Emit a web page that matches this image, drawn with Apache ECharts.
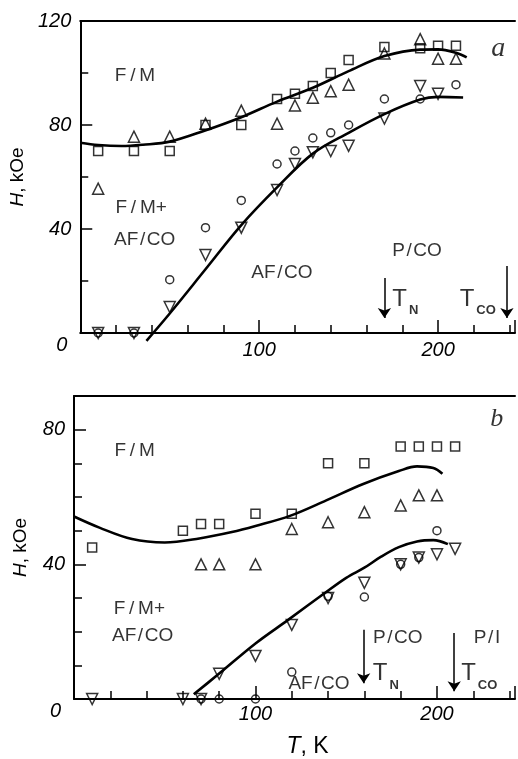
<!DOCTYPE html>
<html><head><meta charset="utf-8">
<script src="https://cdn.jsdelivr.net/npm/echarts@6.0.0/dist/echarts.min.js"></script>
<style>html,body{margin:0;padding:0;background:#fff}#c{width:518px;height:759px}</style>
</head><body><div id="c"></div>
<script>
// ---------- Panel a (top) ----------
const aSquares = [[10,70],[30,70],[50,70],[70,80],[90,80],[110,90],[120,92],[130,95],[140,100],[150,105],[170,110],[190,109.5],[200,110.5],[210,110.5]];
const aTriUp = [[10,55.5],[30,75.5],[50,75.5],[70,80.5],[90,85.5],[110,80.5],[120,87.5],[130,90.5],[140,93],[150,95.5],[170,107.5],[190,113],[200,105.5],[210,105.5]];
const aCircles = [[10,0],[30,0],[50,20.5],[70,40.5],[90,51],[110,65],[120,70],[130,75],[140,77],[150,80],[170,90],[190,90],[210,95.5]];
const aTriDown = [[10,0],[30,0],[50,10],[70,30],[90,40.5],[110,55],[120,65],[130,69.5],[140,70],[150,72],[170,82.5],[190,95],[200,92]];
const aUpperCurve = [[0,73.2],[10,72.3],[23,71.9],[35,72.4],[50,73.6],[69,77.7],[90,83],[110,89],[130,94.3],[150,100.7],[170,106.5],[190,109],[200,109.1],[210,107.8],[216,106]];
const aLowerCurve = [[37,-3],[50,7.5],[70,24.5],[90,41.5],[110,56],[130,69],[150,77],[170,84.2],[190,89.8],[200,90.8],[214,90.6]];
const aArrows = [[170,21.2,5.8],[238.5,25.8,5.8]];
const aLabels = [[30.6,98.8,'F\u2009/\u2009M'],[34,48,'F\u2009/\u2009M+'],[36,35.8,'AF\u200A/\u200ACO'],[112.7,23.1,'AF\u200A/\u200ACO'],[188.2,31.7,'P\u200A/\u200ACO'],[181.7,13,'{t|T}{s|N}'],[222.2,13,'{t|T}{s|CO}']];
const aLetter = [[233.7,109.2,'a']];

// ---------- Panel b (bottom) ----------
const bSquares = [[10,45],[60,50],[70,52],[80,52],[100,55],[120,55],[140,70],[160,70],[180,75],[190,75],[200,75],[210,75]];
const bTriUp = [[70,40],[80,40],[100,40],[120,50.5],[140,52.5],[160,55.5],[180,57.5],[190,60.5],[200,60.5]];
const bCircles = [[70,0],[80,0],[100,0],[120,8],[140,30.5],[160,30.3],[180,40],[190,42],[200,50]];
const bTriDown = [[10,0],[60,0],[70,0],[80,7.5],[100,12.8],[120,22],[140,30],[160,34.5],[180,40],[190,42],[200,43],[210,44.6]];
const bUpperCurve = [[0,54.2],[14,50.9],[32,47.5],[50,46.5],[69,47.7],[87,49.6],[100,51.4],[119,54.4],[139,59],[159,63.8],[179,67.7],[189,69.1],[198,68.6],[203,66.9]];
const bLowerCurve = [[66,1.4],[79,7.1],[100,16.5],[118,23.5],[138,31.4],[150,36],[160,39],[169,42.2],[179,45.1],[189,46.8],[198,47.2],[206,46]];
const bArrows = [[159.6,20.6,4.7],[209.5,19.6,2.3]];
const bLabels = [[33.4,73.8,'F\u2009/\u2009M'],[36,26.8,'F\u2009/\u2009M+'],[37.8,18.7,'AF\u200A/\u200ACO'],[135,4.6,'AF\u200A/\u200ACO'],[178.4,18.2,'P\u200A/\u200ACO'],[227.6,18.2,'P\u200A/\u200AI'],[171.8,7.5,'{t|T}{s|N}'],[223.3,7.5,'{t|T}{s|CO}']];
const bLetter = [[233,83,'b']];

const FONT = "'Liberation Sans', Arial, sans-serif";
const SERIF = "'Liberation Serif', 'DejaVu Serif', serif";
const XMAX = 243;

function xAxesFor(grid, withName) {
  return [
    { gridIndex: grid, type: 'value', min: 0, max: XMAX, interval: 20, position: 'bottom',
      axisLine: { show: true, lineStyle: { color: '#000', width: 2 } },
      axisTick: { show: true, inside: true, length: 8, lineStyle: { color: '#000', width: 1.5 } },
      axisLabel: { show: false }, splitLine: { show: false } },
    { gridIndex: grid, type: 'value', min: 0, max: XMAX, interval: 100, position: 'bottom',
      axisLine: { show: false },
      axisTick: { show: true, inside: true, length: 13, lineStyle: { color: '#000', width: 1.5 } },
      axisLabel: { show: true, margin: grid === 0 ? 7 : 5, color: '#000', fontSize: 20, fontStyle: 'italic', fontFamily: FONT,
        formatter: v => (v === 100 || v === 200) ? String(v) : '' },
      splitLine: { show: false },
      name: withName ? '{i|T}, K' : '', nameLocation: 'middle', nameGap: 36,
      nameTextStyle: { color: '#000', fontSize: 23, fontFamily: FONT, padding: [0, 0, 0, 26],
        rich: { i: { fontStyle: 'italic', fontSize: 23, fontFamily: FONT } } } },
    { gridIndex: grid, type: 'value', min: 0, max: XMAX, position: 'top',
      axisLine: { show: true, lineStyle: { color: '#000', width: 2 } },
      axisTick: { show: false }, axisLabel: { show: false }, splitLine: { show: false } }
  ];
}
function yAxesFor(grid, max, minor) {
  return [
    { gridIndex: grid, type: 'value', min: 0, max: max, interval: minor, position: 'left',
      axisLine: { show: true, lineStyle: { color: '#000', width: 2 } },
      axisTick: { show: true, inside: true, length: 8, lineStyle: { color: '#000', width: 1.5 } },
      axisLabel: { show: false }, splitLine: { show: false } },
    { gridIndex: grid, type: 'value', min: 0, max: max, interval: 40, position: 'left',
      axisLine: { show: false },
      axisTick: { show: true, inside: true, length: 12, lineStyle: { color: '#000', width: 1.5 } },
      axisLabel: { show: true, margin: 9, color: '#000', fontSize: 20, fontStyle: 'italic', fontFamily: FONT,
        formatter: v => v === 0 ? '{z|0}' : (v % 40 === 0 ? String(v) : ''),
        rich: { z: { fontSize: 20, fontStyle: 'italic', fontFamily: FONT, color: '#000', padding: [24, 4, 0, 0] } } },
      splitLine: { show: false },
      name: '{i|H}, kOe', nameLocation: 'middle', nameGap: 44, nameRotate: 90,
      nameTextStyle: { color: '#000', fontSize: 19, fontFamily: FONT,
        rich: { i: { fontStyle: 'italic', fontSize: 19, fontFamily: FONT } } } }
  ];
}

const markerStyle = { color: 'rgba(255,255,255,0)', borderColor: '#000', borderWidth: 1.5 };
function pts(data, symbol, size, xi, yi, rot) {
  return { type: 'scatter', xAxisIndex: xi, yAxisIndex: yi, data: data, symbol: symbol, symbolSize: size,
    symbolRotate: rot || 0, itemStyle: markerStyle, z: 3, silent: true };
}
function curve(data, xi, yi, arrows) {
  return { type: 'line', xAxisIndex: xi, yAxisIndex: yi, data: data, smooth: 0.35, symbol: 'none', clip: false,
    lineStyle: { color: '#000', width: 2.6 }, z: 2, silent: true,
    markLine: arrows ? { silent: true, symbol: ['none', 'arrow'], symbolSize: 10,
      itemStyle: { color: '#000' },
      lineStyle: { color: '#000', width: 1.5, type: 'solid' }, label: { show: false },
      data: arrows.map(a => [{ coord: [a[0], a[1]] }, { coord: [a[0], a[2]] }]) } : undefined };
}
const richSub = {
  t: { fontSize: 24, lineHeight: 24, verticalAlign: 'top', fontFamily: FONT, color: '#000' },
  s: { fontSize: 13, lineHeight: 13, fontWeight: 'bold', verticalAlign: 'top', padding: [17, 0, 0, 2], fontFamily: FONT, color: '#000' }
};
function texts(list, xi, yi) {
  return { type: 'scatter', xAxisIndex: xi, yAxisIndex: yi, symbolSize: 0, silent: true, z: 5,
    data: list.map(l => ({ value: [l[0], l[1]], label: { formatter: l[2] } })),
    label: { show: true, position: 'inside', color: '#000', fontSize: 19, fontFamily: FONT, rich: richSub } };
}
function letter(list, xi, yi, size) {
  return { type: 'scatter', xAxisIndex: xi, yAxisIndex: yi, symbolSize: 0, silent: true, z: 5,
    data: list.map(l => ({ value: [l[0], l[1]], label: { formatter: l[2] } })),
    label: { show: true, position: 'inside', color: '#000', fontSize: size, fontStyle: 'italic', fontFamily: SERIF } };
}

const chart = echarts.init(document.getElementById('c'));
chart.setOption({
  animation: false,
  backgroundColor: '#fff',
  grid: [
    { left: 74, right: 0, top: 21, height: 312 },
    { left: 74, right: 0, top: 396, height: 312 }
  ],
  xAxis: [...xAxesFor(0, false), ...xAxesFor(1, true)],
  yAxis: [...yAxesFor(0, 120, 20), ...yAxesFor(1, 90, 10)],
  series: [
    curve(aUpperCurve, 0, 0),
    curve(aLowerCurve, 0, 0, aArrows),
    pts(aSquares, 'rect', 9, 0, 0),
    pts(aTriUp, 'triangle', 11, 0, 0),
    pts(aCircles, 'circle', 8, 0, 0),
    pts(aTriDown, 'triangle', 11, 0, 0, 180),
    texts(aLabels, 0, 0),
    letter(aLetter, 0, 0, 28),
    curve(bUpperCurve, 3, 2),
    curve(bLowerCurve, 3, 2, bArrows),
    pts(bSquares, 'rect', 9, 3, 2),
    pts(bTriUp, 'triangle', 11, 3, 2),
    pts(bCircles, 'circle', 8, 3, 2),
    pts(bTriDown, 'triangle', 11, 3, 2, 180),
    texts(bLabels, 3, 2),
    letter(bLetter, 3, 2, 26)
  ]
});
</script></body></html>
